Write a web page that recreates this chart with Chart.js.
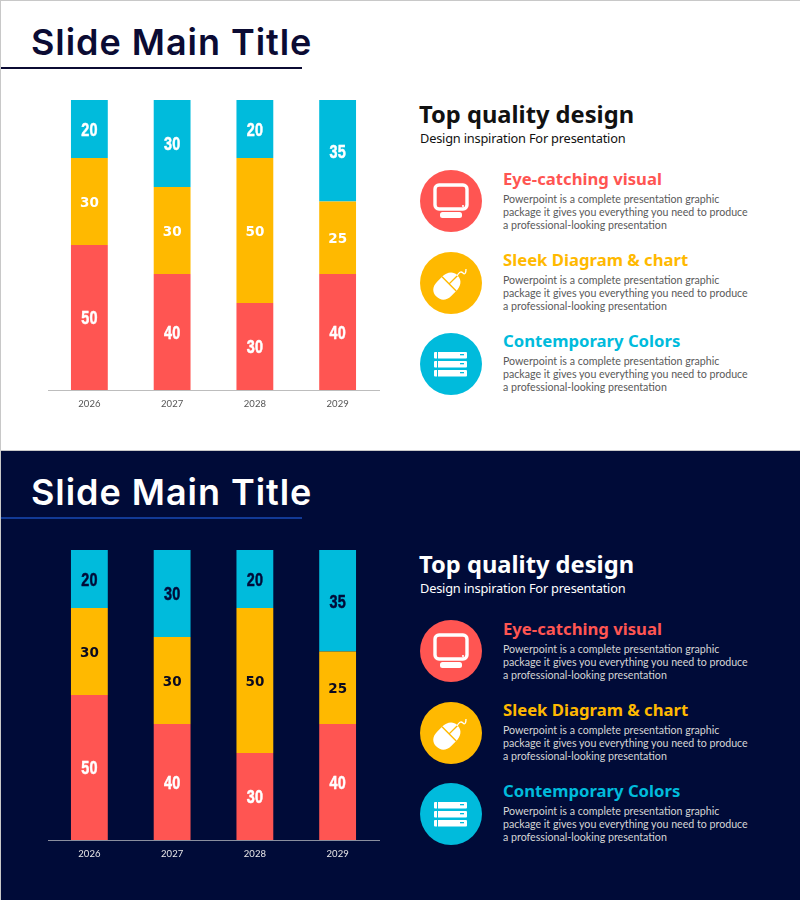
<!DOCTYPE html>
<html><head><meta charset="utf-8">
<script src="https://cdn.jsdelivr.net/npm/chart.js@4"></script>
<style>
html,body{margin:0;padding:0;background:#fff;width:800px;height:900px;overflow:hidden}
.slide{position:absolute;left:0;width:800px;height:450px;box-sizing:border-box;overflow:hidden}
.t{position:absolute;white-space:nowrap;line-height:1}
.title{left:31px;top:22px;font:600 36px/40px Inter,sans-serif;letter-spacing:.95px}
.rule{position:absolute;left:0;top:66px;width:301px;height:2px}
.h1{left:419px;top:101px;font:700 23.7px/26px "Noto Sans",sans-serif}
.h2{left:420px;top:130px;font:400 12.8px/16px "Noto Sans",sans-serif;letter-spacing:-.2px}
.ht{left:503px;font:700 16.7px/20px "Noto Sans",sans-serif}
.b{left:503px;font:400 10.65px/12.9px Lato,sans-serif;white-space:pre}
canvas{position:absolute;left:0;top:90px}
svg.i{position:absolute;left:420px;width:62px;height:62px}
</style></head><body>
<div id="root"></div>
<script>
const categories = ['2026','2027','2028','2029'];
const redValues = [50,40,30,40];
const amberValues = [30,30,50,25];
const blueValues = [20,30,20,35];
const mainTitle = 'Slide Main Title';
const heading = 'Top quality design';
const subheading = 'Design inspiration For presentation';
const itemTitles = ['Eye-catching visual','Sleek Diagram & chart','Contemporary Colors'];
const itemBody = 'Powerpoint is a complete presentation graphic\npackage it gives you everything you need to produce\na professional-looking presentation';
const RED='#FF5552', AMBER='#FFB900', BLUE='#00BBDC';
const itemColors=[RED,AMBER,BLUE];
const icons=[
 `<rect x="15" y="15" width="32" height="24" rx="4" fill="none" stroke="#fff" stroke-width="3.4"/><circle cx="43" cy="36" r="1.1" fill="#fff"/><rect x="20" y="42" width="22" height="6" rx="2.5" fill="#fff"/>`,
 `<g transform="rotate(45 27 34)"><path d="M27 19 C20 19 17 25 17 31 V38 C17 45 21 49 27 49 C33 49 37 45 37 38 V31 C37 25 34 19 27 19Z" fill="#fff"/><path d="M17 31 H37 M27 19 V31" stroke="${AMBER}" stroke-width="1.4" fill="none"/></g><path d="M37 24 C39 20 41 19 43 21 C45 23 46 21 46 17" stroke="#fff" stroke-width="1.3" fill="none"/>`,
 `<g fill="#fff"><rect x="14" y="19" width="33" height="6.5" rx="1"/><rect x="14" y="28" width="33" height="6.5" rx="1"/><rect x="14" y="37" width="33" height="6.5" rx="1"/></g><g fill="${BLUE}"><rect x="17" y="19" width="1" height="25"/><rect x="40" y="21" width="4" height="1.3"/><rect x="40" y="30" width="4" height="1.3"/><rect x="40" y="39" width="4" height="1.3"/></g>`
];
const segmentLabels = {
  id:'segmentLabels',
  afterDatasetsDraw(chart,_,o){
    const c=chart.ctx;
    chart.data.datasets.forEach((ds,i)=>{
      chart.getDatasetMeta(i).data.forEach((bar,j)=>{
        const cy=(bar.y+bar.base)/2+1;
        c.save();
        c.fillStyle=o.colors[i];
        c.strokeStyle=o.colors[i];
        c.textAlign='center';c.textBaseline='middle';
        if(i===1){
          c.font='700 13.5px "DejaVu Sans"';
          c.fillText(String(ds.data[j]),bar.x,cy+0.5);
        }else{
          c.font='700 18px "Liberation Sans"';
          c.translate(bar.x,cy+1);c.scale(.8,1);
          c.lineWidth=.5;
          c.strokeText(String(ds.data[j]),0,0);
          c.fillText(String(ds.data[j]),0,0);
        }
        c.restore();
      });
    });
  }
};
function slide(top,th){
  const s=document.createElement('div');
  s.className='slide';
  s.style.cssText=`top:${top}px;background:${th.bg};border-top:1px solid #c8c8c8;border-left:1px solid #c8c8c8;`;
  let html=`<div class="t title" style="margin-left:-1px;margin-top:-1px;color:${th.title}">${mainTitle}</div>
  <div class="rule" style="background:${th.rule}"></div>
  <div class="t h1" style="margin-left:-1px;margin-top:-1px;color:${th.head}">${heading}</div>
  <div class="t h2" style="margin-left:-1px;margin-top:-1px;color:${th.head}">${subheading}</div>`;
  const cy=[201,283,364],hy=[179,260,341],by=[193,274,355];
  itemTitles.forEach((tt,i)=>{
    html+=`<svg class="i" viewBox="0 0 62 62" style="margin-left:-1px;top:${cy[i]-32}px"><circle cx="31" cy="31" r="31" fill="${itemColors[i]}"/>${icons[i]}</svg>
    <div class="t ht" style="margin-left:-1px;top:${hy[i]-11}px;color:${itemColors[i]}">${tt.replace('&','&amp;')}</div>
    <div class="t b" style="margin-left:-1px;top:${by[i]-1}px;color:${th.body}">${itemBody}</div>`;
  });
  s.innerHTML=html;
  const cv=document.createElement('canvas');
  cv.width=400;cv.height=340;
  cv.style.cssText='margin-left:-1px;margin-top:-1px;width:400px;height:340px';
  s.appendChild(cv);
  document.getElementById('root').appendChild(s);
  new Chart(cv,{
    type:'bar',
    data:{labels:categories,datasets:[
      {data:redValues,backgroundColor:RED},
      {data:amberValues,backgroundColor:AMBER},
      {data:blueValues,backgroundColor:BLUE}]},
    plugins:[segmentLabels],
    options:{
      responsive:false,animation:false,
      devicePixelRatio:1,
      layout:{padding:{left:48,right:21,top:10,bottom:0}},
      datasets:{bar:{categoryPercentage:1,barPercentage:.445}},
      plugins:{legend:{display:false},tooltip:{enabled:false},segmentLabels:{colors:th.labels}},
      scales:{
        x:{stacked:true,grid:{display:false,drawTicks:false},border:{display:true,color:th.axis,width:1},
           ticks:{color:th.tick,font:{family:'Lato',size:9.5},padding:8,maxRotation:0},
           afterFit(a){a.height=40}},
        y:{stacked:true,display:false,min:0,max:100}
      }
    }
  });
}
slide(0,{bg:'#fff',title:'#0B0B33',rule:'#0B0B33',head:'#111',body:'#5a5a5a',axis:'#bdbdbd',tick:'#555',labels:['#fff','#fff','#fff']});
slide(450,{bg:'#000B38',title:'#fff',rule:'#123A96',head:'#fff',body:'#d5d5d5',axis:'#8a8f9f',tick:'#e8e8e8',labels:['#fff','#0a0a20','#000B38']});
</script>
</body></html>
